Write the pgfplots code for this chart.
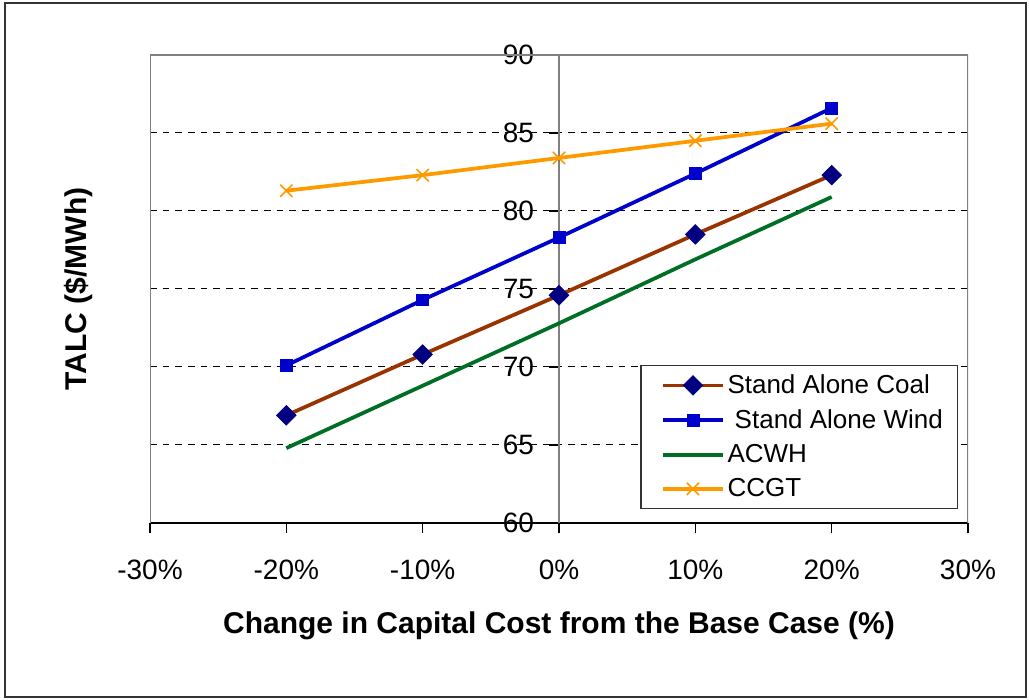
\documentclass[border=0pt]{standalone}
\usepackage{fontspec}
\setmainfont{Liberation Sans}
\usepackage{pgfplots}
\pgfplotsset{compat=1.18}

\definecolor{coalline}{RGB}{153,51,0}
\definecolor{coalmark}{RGB}{0,0,128}
\definecolor{windblue}{RGB}{0,0,204}
\definecolor{acwhgreen}{RGB}{0,110,36}
\definecolor{ccgtorange}{RGB}{255,153,0}

\begin{document}
\begin{tikzpicture}
\useasboundingbox (0,0) rectangle (771.75pt,525pt);
\draw[line width=1.5pt, black!80] (3.75pt,2.25pt) rectangle (769.5pt,522.75pt);

\begin{axis}[
    name=ax,
    at={(112.5pt,132.75pt)}, anchor=south west,
    scale only axis,
    width=613.5pt, height=351pt,
    xmin=-30, xmax=30, ymin=60, ymax=90,
    enlargelimits=false,
    axis x line*=bottom,
    axis y line*=middle,
    hide obscured x ticks=false,
    hide obscured y ticks=false,
    x axis line style={black, line width=1pt},
    y axis line style={black!50, line width=1.2pt},
    tick style={black, line width=1pt},
    tick align=outside,
    major tick length=7.5pt,
    xtick={-30,-20,...,30},
    xticklabels={-30\%,-20\%,-10\%,0\%,10\%,20\%,30\%},
    ytick={60,65,...,90},
    yticklabels={60,65,70,75,80,85,90},
    ticklabel style={font=\fontsize{21}{25}\selectfont},
    yticklabel style={anchor=east, inner sep=0pt, xshift=-11pt},
    xticklabel style={yshift=-17pt},
    ymajorgrids,
    major grid style={black, line width=0.75pt, dash pattern=on 5pt off 4.5pt},
    xlabel={Change in Capital Cost from the Base Case (\%)},
    label style={font=\bfseries\fontsize{22.5}{27}\selectfont},
    xlabel style={at={(axis description cs:0.5,0)}, anchor=center, yshift=-77pt},
    legend style={
        at={(rel axis cs:0.988,0.03)}, anchor=south east,
        draw=black!80, line width=1pt,
        font=\fontsize{19.5}{23}\selectfont,
        row sep=6.5pt, inner xsep=9pt, inner ysep=5pt,
    },
    legend cell align=left,
    legend image code/.code={
        \path (0pt,0pt);
        \draw[mark repeat=2, mark phase=2] plot coordinates {(6pt,0pt) (28.5pt,0pt) (51pt,0pt)};
    },
]

\addplot[coalline, line width=2.8pt, mark=square*, mark size=5.2pt,
    mark options={rotate=45, fill=coalmark, draw=coalmark, line width=0.5pt}]
    coordinates {(-20,66.9) (-10,70.8) (0,74.6) (10,78.5) (20,82.3)};
\addlegendentry{Stand Alone Coal}

\addplot[windblue, line width=2.8pt, mark=square*, mark size=4.4pt,
    mark options={fill=windblue, draw=windblue, line width=0.5pt}]
    coordinates {(-20,70.1) (-10,74.3) (0,78.3) (10,82.4) (20,86.6)};
\addlegendentry{\ Stand Alone Wind}

\addplot[acwhgreen, line width=2.8pt, no markers]
    coordinates {(-20,64.8) (-10,68.8) (0,72.8) (10,76.9) (20,80.9)};
\addlegendentry{ACWH}

\addplot[ccgtorange, line width=2.8pt, mark=x, mark size=6.5pt,
    mark options={line width=1.2pt}]
    coordinates {(-20,81.3) (-10,82.3) (0,83.4) (10,84.5) (20,85.6)};
\addlegendentry{CCGT}

\draw[black!50, line width=1.5pt] (rel axis cs:0,0) -- (rel axis cs:0,1) -- (rel axis cs:1,1) -- (rel axis cs:1,0);
\end{axis}

\node[rotate=90, anchor=center, font=\bfseries\fontsize{22.5}{27}\selectfont]
    at ([xshift=-54pt]ax.west) {TALC (\$/MWh)};
\end{tikzpicture}
\end{document}
